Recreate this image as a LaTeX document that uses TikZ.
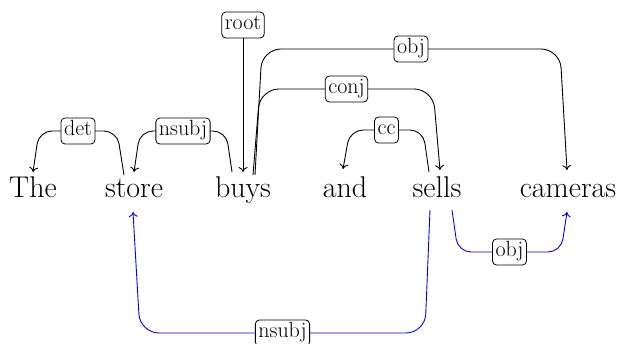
\documentclass[tikz,border=0pt]{standalone}
\usepackage{fontspec}
\usetikzlibrary{arrows.meta,calc}
\begin{document}
\begin{tikzpicture}[x=1pt,y=-1pt,
  word/.style={anchor=base,inner sep=0pt,font=\fontsize{30}{34}\selectfont},
  deplabel/.style={draw=black,text=black,rounded corners=4pt,fill=white,line width=0.8pt,
    inner xsep=3pt,inner ysep=3.5pt,text height=14pt,text depth=5pt,
    font=\fontsize{22}{25}\selectfont},
  dep/.style={line width=0.9pt,rounded corners=13pt,-{To[length=5pt,width=9pt]}},
  tall/.style={rounded corners=19pt},
  depbelow/.style={dep,blue}]
\useasboundingbox (0,0) rectangle (622,344);

% the sentence
\node[word] (The)     at (33,198)  {The};
\node[word] (store)   at (134,198) {store};
\node[word] (buys)    at (243,198) {buys};
\node[word] (and)     at (345,198) {and};
\node[word] (sells)   at (437,198) {sells};
\node[word] (cameras) at (568,198) {cameras};

% arcs above the words
\draw[dep] ($(store.base)+(-10,-23)$) -- ($(store.base)+(-17,-67)$)
  -- node[deplabel] {det} ($(The.base)+(6,-67)$) -- ($(The.base)+(0,-26)$);
\draw[dep] ($(buys.base)+(-11,-26)$) -- ($(buys.base)+(-17,-67)$)
  -- node[deplabel] {nsubj} ($(store.base)+(6,-67)$) -- ($(store.base)+(0,-26)$);
\draw[dep,tall] ($(buys.base)+(12,-23)$) -- ($(buys.base)+(19,-149)$)
  -- node[deplabel] {obj} ($(cameras.base)+(-8,-149)$) -- ($(cameras.base)+(-1,-28)$);
\draw[dep,tall] ($(buys.base)+(10,-23)$) -- ($(buys.base)+(17,-109)$)
  -- node[deplabel] {conj} ($(sells.base)+(-4,-109)$) -- ($(sells.base)+(3,-28)$);
\draw[dep] ($(sells.base)+(-8,-26)$) -- ($(sells.base)+(-14,-68)$)
  -- node[deplabel] {cc} ($(and.base)+(5,-68)$) -- ($(and.base)+(-2,-29)$);

% root
\node[deplabel] (root) at (243,25) {root};
\draw[dep] (root.south) -- ($(buys.base)+(0,-26)$);

% arcs below the words
\draw[depbelow,tall] ($(sells.base)+(-7,12)$) -- ($(sells.base)+(-12,135)$)
  -- node[deplabel] {nsubj} ($(store.base)+(6,135)$) -- ($(store.base)+(-1,14)$);
\draw[depbelow] ($(sells.base)+(15,12)$) -- ($(sells.base)+(21,54)$)
  -- node[deplabel] {obj} ($(cameras.base)+(-7,54)$) -- ($(cameras.base)+(-1,14)$);
\end{tikzpicture}
\end{document}
